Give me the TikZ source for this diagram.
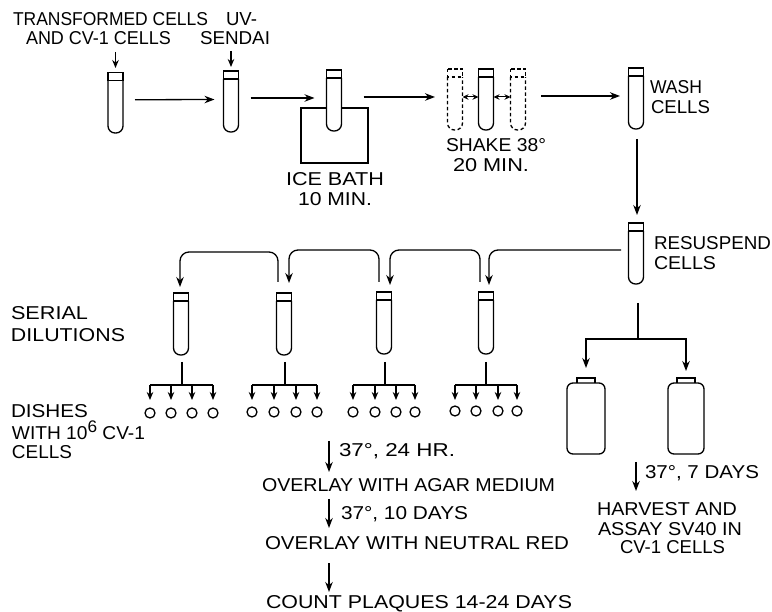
\documentclass[tikz,border=0pt]{standalone}
\usepackage{fontspec}
\usepackage{graphicx}
\setmainfont{Liberation Sans}
\usetikzlibrary{arrows.meta}
\tikzset{
  line/.style={line width=1.3pt,black},
  arr/.style={line,-{Stealth[length=10pt,width=7.5pt]}},
  smallarr/.style={line,-{Stealth[length=8pt,width=6.5pt]}},
  twoarr/.style={line,line width=1pt,{Stealth[length=6pt,width=5.5pt]}-{Stealth[length=6pt,width=5.5pt]}},
  curve/.style={rounded corners=9pt},
  holder/.style={inner sep=0pt,outer sep=0pt,minimum width=15pt},
  lab/.style={inner sep=0pt,outer sep=0pt,anchor=base west},
  dish/.style={circle,draw,line width=1.3pt,minimum size=10pt,inner sep=0pt},
  ghost/.style={dash pattern=on 3.5pt off 2.5pt},
}
\newcommand{\lab}[5]{\node[lab] (#1) at (#2,#4+6.5) {\resizebox{\dimexpr #3pt-#2pt\relax}{13pt}{#5}};}
\newcommand{\tubeat}[5][]{%
  \pgfmathsetmacro{\tubeh}{#5-#4}\pgfmathsetmacro{\tubemid}{(#5+#4)/2}
  \node[holder,minimum height=\tubeh pt] (#2) at (#3,\tubemid) {};
  \draw[line,fill=white,rounded corners=7pt,#1] (#3-7.5,#4+8) -- (#3-7.5,#5) -- (#3+7.5,#5) -- (#3+7.5,#4+8);
  \draw[line,fill=white,#1] (#3-7.5,#4) rectangle (#3+7.5,#4+8);
}
\newcommand{\bottleat}[4]{%
  \pgfmathsetmacro{\bw}{#4-#3}\pgfmathsetmacro{\bm}{(#4+#3)/2}
  \node[holder,minimum width=\bw pt,minimum height=71pt] (#1) at (\bm,#2+35.5) {};
  \draw[line,rounded corners=6pt] (#3,#2) rectangle (#4,#2+71);
  \draw[line] (\bm-9,#2) -- (\bm-9,#2-5) -- (\bm+9,#2-5) -- (\bm+9,#2);
}
\newcommand{\fan}[7]{%
  \coordinate (#1top) at (#2,362);
  \coordinate (#1mid) at (#2,385);
  \draw[line] (#1top) -- (#1mid);
  \draw[line] (#3,385) -- (#6,385);
  \foreach \q/\r in {#3/a,#4/b,#5/c,#6/d}{
    \node[dish] (#1\r) at (\q,#7) {};
    \draw[smallarr] (\q,385) -- (\q,400);
  }
}
\begin{document}
\begin{tikzpicture}[x=1pt,y=-1pt]
\useasboundingbox[fill=white] (0,0) rectangle (772,612);
% labels
\lab{a1}{13}{208}{19}{TRANSFORMED CELLS}
\lab{a2}{26}{171}{38}{AND CV-1 CELLS}
\lab{b1}{226}{257}{19}{UV-}
\lab{b2}{200}{270}{38}{SENDAI}
\lab{c1}{286}{384}{179}{ICE  BATH}
\lab{c2}{298}{372}{199}{10 MIN.}
\lab{d1}{446}{546}{145}{SHAKE 38°}
\lab{d2}{453}{529}{165}{20 MIN.}
\lab{e1}{650}{702}{87}{WASH}
\lab{e2}{651}{710}{107}{CELLS}
\lab{f1}{654}{771}{243}{RESUSPEND}
\lab{f2}{654}{716}{263}{CELLS}
\lab{g1}{11}{88}{313}{SERIAL}
\lab{g2}{11}{125}{335}{DILUTIONS}
\lab{h1}{11}{88}{411}{DISHES}
\lab{h2}{12}{145}{433}{WITH 10\smash{\raisebox{.38em}{\small 6}} CV-1}
\lab{h3}{12}{72}{452}{CELLS}
\lab{i1}{339}{455}{450}{37°, 24 HR.}
\lab{i2}{262}{555}{485}{OVERLAY WITH AGAR MEDIUM}
\lab{i3}{341}{468}{513}{37°, 10 DAYS}
\lab{i4}{265}{569}{543}{OVERLAY WITH NEUTRAL RED}
\lab{i5}{266}{572}{602}{COUNT PLAQUES 14-24 DAYS}
\lab{j1}{645}{759}{472}{37°, 7 DAYS}
\lab{j2}{597}{737}{509}{HARVEST AND}
\lab{j3}{598}{742}{529}{ASSAY SV40 IN}
\lab{j4}{620}{725}{547}{CV-1 CELLS}
% ice bath
\node[draw,line width=1.3pt,inner sep=0pt,minimum width=67pt,minimum height=55pt] (bath) at (334.5,135.5) {};
% tubes
\tubeat{t1}{115.5}{72.5}{133}
\tubeat{t2}{231}{71}{132}
\tubeat{t3}{334}{70}{131}
\tubeat[ghost]{shl}{455}{69}{130}
\tubeat{sh}{486}{69}{130}
\tubeat[ghost]{shr}{518}{69}{130}
\tubeat{w}{636}{68}{129}
\tubeat{r}{636}{223}{284}
\tubeat{s1}{181}{293}{355}
\tubeat{s2}{284}{293}{355}
\tubeat{s3}{384}{292}{354}
\tubeat{s4}{486}{292}{354}
% bottles
\bottleat{b1b}{383}{567}{605}
\bottleat{b2b}{383}{668}{704}
% top row arrows
\draw[smallarr] ([yshift=20.5pt]t1.north) -- ([yshift=4.5pt]t1.north);
\draw[smallarr] ([yshift=20pt]t2.north) -- ([yshift=4pt]t2.north);
\draw[arr] ([shift={(12,-3)}]t1.east) -- ([shift={(-9,-2)}]t2.west);
\draw[arr] ([shift={(12,-3.5)}]t2.east) -- ([shift={(-12,-2.5)}]t3.west);
\draw[arr] ([shift={(22,-3.5)}]t3.east) -- ([shift={(-12.5,-2.5)}]shl.west);
\draw[twoarr] ([shift={(0,-2.5)}]shl.east) -- ([shift={(0,-2.5)}]sh.west);
\draw[twoarr] ([shift={(0,-2.5)}]sh.east) -- ([shift={(0,-2.5)}]shr.west);
\draw[arr] ([shift={(15.5,-3.5)}]shr.east) -- ([shift={(-8.5,-2.5)}]w.west);
\draw[arr] ([shift={(1,10)}]w.south) -- ([shift={(1,-8)}]r.north);
% serial dilution connectors
\draw[arr,curve] ([shift={(-7.5,-3.5)}]r.west) -- (489,250) -- ([shift={(3,-7)}]s4.north);
\draw[arr,curve] (480,282) -- (480,250) -- (390,250) -- ([shift={(6,-7)}]s3.north);
\draw[arr,curve] (379,282) -- (379,250) -- (289,250) -- ([shift={(5,-10)}]s2.north);
\draw[arr,curve] (278,282) -- (278,252) -- (180,252) -- ([shift={(-1,-6)}]s1.north);
% dish fans
\fan{p}{182}{150}{171}{192}{213}{413}
\fan{q}{285}{252}{274}{296}{317}{412}
\fan{u}{385}{353}{375}{396}{415}{412}
\fan{v}{486}{455}{476}{498}{517}{411}
% bottle fan
\coordinate (btop) at (638,303);
\coordinate (bmid) at (638,339);
\draw[line] (btop) -- (bmid);
\draw[arr] (bmid) -| ([shift={(0,-15)}]b1b.north);
\draw[arr] (bmid) -| ([shift={(0,-12)}]b2b.north);
% bottom arrows
\draw[arr] (329,441) -- (329,472);
\draw[arr] (329,499) -- (329,528);
\draw[arr] (329,563) -- (329,592);
\draw[arr] (636,462) -- (636,491);
\end{tikzpicture}
\end{document}
